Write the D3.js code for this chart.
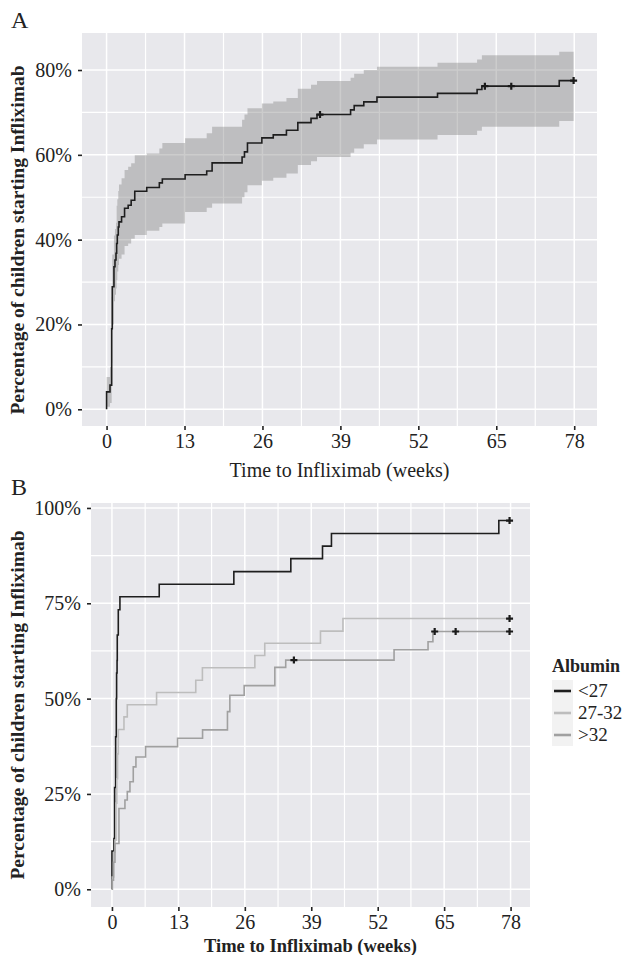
<!DOCTYPE html>
<html><head><meta charset="utf-8">
<script src="https://cdn.jsdelivr.net/npm/d3@7"></script>
<style>
body{margin:0;background:#fff}
svg{display:block}
text{font-family:"Liberation Serif","Times New Roman",serif;fill:#222}
</style>
</head><body><svg id="chart" width="626" height="955"></svg>
<script>
// ---------- data ----------
const xTicks = [0, 13, 26, 39, 52, 65, 78];
const xMinor = [6.5, 19.5, 32.5, 45.5, 58.5, 71.5];
const yTicksA = [0, 20, 40, 60, 80];
const yMinorA = [10, 30, 50, 70];
const yTicksB = [0, 25, 50, 75, 100];
const yMinorB = [12.5, 37.5, 62.5, 87.5];

// Panel A: cumulative percentage with 95% CI (step after each time)
const timeA  = [0, 0, 0.57, 0.85, 0.95, 1.23, 1.4, 1.57, 1.68, 1.79, 1.95, 2.07, 2.5, 3.0, 3.6, 4.1, 4.7, 6.7, 8.8, 9.3, 13.1, 16.7, 17.6, 22.6, 23.0, 23.5, 25.9, 27.8, 30.0, 31.9, 34.1, 35.1, 40.7, 41.3, 42.9, 45.1, 55.2, 61.8, 62.6, 75.5, 77.9];
const pctA   = [0, 4.1, 5.7, 19.0, 28.9, 33.6, 35.2, 36.8, 39.1, 41.1, 43.0, 44.2, 45.4, 47.4, 48.1, 49.3, 51.4, 52.3, 53.4, 54.3, 55.3, 56.2, 58.1, 59.5, 60.7, 62.8, 64.0, 64.7, 65.8, 67.6, 68.6, 69.5, 70.6, 71.6, 72.5, 73.6, 74.5, 75.4, 76.2, 77.5, 77.5];
const lowerA = [0, 0.6, 1.5, 11.0, 20.0, 25.5, 27.0, 28.5, 30.5, 32.5, 34.0, 35.5, 36.5, 38.5, 39.1, 40.2, 41.1, 42.1, 43.0, 43.8, 46.5, 47.5, 48.5, 50.0, 51.2, 52.8, 53.9, 54.6, 55.6, 57.6, 58.5, 59.5, 60.5, 61.5, 62.5, 63.6, 64.7, 65.7, 66.6, 68.0, 68.0];
const upperA = [7.6, 7.6, 10.0, 26.5, 36.5, 41.0, 42.5, 44.0, 48.0, 49.5, 51.5, 53.0, 54.5, 56.4, 57.2, 58.0, 59.9, 60.3, 61.5, 62.8, 63.9, 65.1, 66.6, 68.3, 69.5, 71.0, 72.1, 72.6, 73.4, 75.6, 76.5, 77.4, 78.2, 79.1, 80.0, 80.8, 81.7, 82.5, 83.5, 84.3, 84.3];
const censorTimeA = [35.6, 63.1, 67.5, 77.9];
const censorPctA  = [69.5, 76.2, 76.2, 77.5];

// Panel B: by albumin group
const groups = ["<27", "27-32", ">32"];
const groupColors = ["#1e1e1e", "#bdbdbd", "#a0a0a0"];
const timeB1 = [0, 0, 0.39, 0.52, 0.72, 0.85, 0.91, 1.0, 1.04, 1.24, 1.56, 9.25, 23.85, 35.0, 41.2, 42.95, 75.7, 77.8];
const pctB1  = [0, 10.0, 13.3, 26.7, 40.0, 50.0, 56.7, 60.0, 66.7, 73.3, 76.7, 80.0, 83.3, 86.7, 90.0, 93.3, 96.7, 96.7];
const timeB2 = [0, 0.07, 0.35, 0.6, 0.8, 0.95, 1.1, 1.24, 2.35, 3.0, 8.73, 16.4, 17.7, 27.96, 29.9, 40.8, 45.2, 77.8];
const pctB2  = [0, 3.2, 9.7, 12.9, 22.6, 29.0, 35.5, 41.9, 45.2, 48.4, 51.6, 54.8, 58.1, 61.3, 64.5, 67.7, 71.0, 71.0];
const timeB3 = [0, 0.07, 0.3, 0.59, 1.37, 2.54, 3.0, 3.52, 4.17, 4.69, 6.58, 12.84, 17.73, 22.6, 23.07, 25.87, 31.87, 34.0, 55.2, 61.85, 62.8, 77.8];
const pctB3  = [0, 2.4, 7.1, 12.0, 21.2, 23.4, 25.6, 28.2, 32.1, 34.7, 37.4, 39.6, 41.8, 46.6, 50.9, 53.4, 58.2, 60.1, 62.8, 64.9, 67.6, 67.6];
const censorTimeB = [[77.8], [77.8], [35.6, 63.15, 67.25, 77.8]];
const censorPctB  = [[96.7], [71.0], [60.1, 67.6, 67.6, 67.6]];

// ---------- drawing ----------
const svg = d3.select("#chart");
const xDomain = [-4.1, 81.8];

function panel(cfg) {
  const x = d3.scaleLinear().domain(xDomain).range([cfg.left, cfg.right]);
  const y = d3.scaleLinear().domain(cfg.yDomain).range([cfg.bottom, cfg.top]);
  const g = svg.append("g");
  g.append("rect").attr("x", cfg.left).attr("y", cfg.top)
    .attr("width", cfg.right - cfg.left).attr("height", cfg.bottom - cfg.top)
    .attr("fill", "#e8e8ec");
  const grid = g.append("g").attr("stroke", "#fff");
  grid.selectAll(".vmin").data(xMinor).join("line")
    .attr("x1", d => x(d)).attr("x2", d => x(d)).attr("y1", cfg.top).attr("y2", cfg.bottom).attr("stroke-width", 1.2);
  grid.selectAll(".hmin").data(cfg.yMinor).join("line")
    .attr("y1", d => y(d)).attr("y2", d => y(d)).attr("x1", cfg.left).attr("x2", cfg.right).attr("stroke-width", 1.2);
  grid.selectAll(".vmaj").data(xTicks).join("line")
    .attr("x1", d => x(d)).attr("x2", d => x(d)).attr("y1", cfg.top).attr("y2", cfg.bottom).attr("stroke-width", 1.5);
  grid.selectAll(".hmaj").data(cfg.yTicks).join("line")
    .attr("y1", d => y(d)).attr("y2", d => y(d)).attr("x1", cfg.left).attr("x2", cfg.right).attr("stroke-width", 1.5);

  const xa = g.append("g").attr("transform", `translate(0,${cfg.bottom})`)
    .call(d3.axisBottom(x).tickValues(xTicks).tickSize(4).tickPadding(cfg.xPad));
  const ya = g.append("g").attr("transform", `translate(${cfg.left},0)`)
    .call(d3.axisLeft(y).tickValues(cfg.yTicks).tickSize(4).tickPadding(cfg.yPad).tickFormat(d => d + "%"));
  [xa, ya].forEach(a => {
    a.select(".domain").remove();
    a.selectAll(".tick line").attr("stroke", "#222").attr("stroke-width", 1.6);
    a.selectAll(".tick text").attr("fill", "#333").style("font-size", "20px")
      .style("font-family", '"Liberation Serif","Times New Roman",serif');
  });
  return { g, x, y };
}

function censor(g, x, y, ts, ps) {
  ts.forEach((t, i) => {
    const cx = x(t), cy = y(ps[i]);
    g.append("path").attr("d", `M${cx - 3.5},${cy}H${cx + 3.5}M${cx},${cy - 3.5}V${cy + 3.5}`)
      .attr("stroke", "#1a1a1a").attr("stroke-width", 2.2).attr("fill", "none");
  });
}

// ----- Panel A -----
{
  const { g, x, y } = panel({ left: 82, right: 597, top: 33, bottom: 426, yDomain: [-3.94, 88.73],
    yTicks: yTicksA, yMinor: yMinorA, xPad: 4, yPad: 6 });
  const rows = timeA.map((t, i) => ({ t, p: pctA[i], lo: lowerA[i], hi: upperA[i] }));
  g.append("path").datum(rows)
    .attr("d", d3.area().x(d => x(d.t)).y0(d => y(d.lo)).y1(d => y(d.hi)).curve(d3.curveStepAfter))
    .attr("fill", "#7f7f7f").attr("fill-opacity", 0.4);
  g.append("path").datum(rows)
    .attr("d", d3.line().x(d => x(d.t)).y(d => y(d.p)).curve(d3.curveStepAfter))
    .attr("fill", "none").attr("stroke", "#1e1e1e").attr("stroke-width", 1.6);
  censor(g, x, y, censorTimeA, censorPctA);

  svg.append("text").attr("x", 11).attr("y", 28).style("font-size", "24px").text("A");
  svg.append("text").attr("x", 339.5).attr("y", 477).attr("text-anchor", "middle")
    .style("font-size", "20px").text("Time to Infliximab (weeks)");
  svg.append("text").attr("transform", "translate(24,240) rotate(-90)").attr("text-anchor", "middle")
    .style("font-size", "19.5px").style("font-weight", "bold").text("Percentage of children starting Infliximab");
}

// ----- Panel B -----
{
  const { g, x, y } = panel({ left: 91, right: 530, top: 503, bottom: 907, yDomain: [-4.65, 101.3],
    yTicks: yTicksB, yMinor: yMinorB, xPad: 4, yPad: 6 });
  const series = [[timeB1, pctB1], [timeB2, pctB2], [timeB3, pctB3]];
  series.forEach(([ts, ps], k) => {
    const rows = ts.map((t, i) => ({ t, p: ps[i] }));
    g.append("path").datum(rows)
      .attr("d", d3.line().x(d => x(d.t)).y(d => y(d.p)).curve(d3.curveStepAfter))
      .attr("fill", "none").attr("stroke", groupColors[k]).attr("stroke-width", 1.6);
  });
  series.forEach((s, k) => censor(g, x, y, censorTimeB[k], censorPctB[k]));

  svg.append("text").attr("x", 11).attr("y", 495).style("font-size", "24px").text("B");
  svg.append("text").attr("x", 310.5).attr("y", 952).attr("text-anchor", "middle")
    .style("font-size", "18.5px").style("font-weight", "bold").text("Time to Infliximab (weeks)");
  svg.append("text").attr("transform", "translate(24,705) rotate(-90)").attr("text-anchor", "middle")
    .style("font-size", "19.5px").style("font-weight", "bold").text("Percentage of children starting Infliximab");

  // legend
  const lg = svg.append("g");
  lg.append("text").attr("x", 552).attr("y", 672).style("font-size", "18px").style("font-weight", "bold").text("Albumin");
  groups.forEach((name, i) => {
    const cy = 691 + i * 22;
    lg.append("rect").attr("x", 552).attr("y", cy - 11).attr("width", 21).attr("height", 22).attr("fill", "#f2f2f2");
    lg.append("line").attr("x1", 554).attr("x2", 571).attr("y1", cy).attr("y2", cy)
      .attr("stroke", groupColors[i]).attr("stroke-width", 2.6);
    lg.append("text").attr("x", 578).attr("y", cy + 6).style("font-size", "19px").text(name);
  });
}
</script>
</body></html>
